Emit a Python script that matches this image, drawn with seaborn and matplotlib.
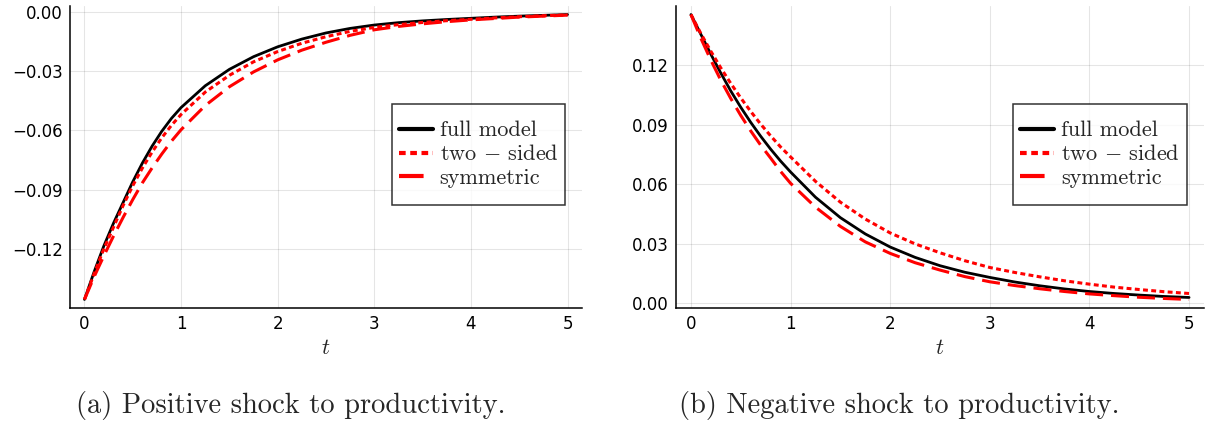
import numpy as np
import pandas as pd
import matplotlib
matplotlib.use("Agg")
import matplotlib.pyplot as plt
from matplotlib.path import Path
from matplotlib.ticker import FixedLocator, FuncFormatter
import seaborn as sns

# Time grid of the impulse responses
t = [0, 0.1, 0.2, 0.3, 0.4, 0.5, 0.6, 0.7, 0.8, 0.9, 1.0,
     1.25, 1.5, 1.75, 2.0, 2.25, 2.5, 2.75, 3.0, 3.25, 3.5, 3.75, 4.0, 4.25, 4.5, 4.75, 5.0]

# (a) Positive shock to productivity
pos_full = [-0.1455, -0.1315, -0.1185, -0.1070, -0.0965, -0.0860, -0.0765, -0.0680, -0.0605,
            -0.0540, -0.0485, -0.0375, -0.0292, -0.0228, -0.0178, -0.0139, -0.0108, -0.0085,
            -0.0068, -0.0056, -0.0047, -0.0040, -0.0034, -0.0028, -0.0023, -0.0019, -0.0015]
pos_two = [-0.1455, -0.1325, -0.1200, -0.1090, -0.0980, -0.0880, -0.0790, -0.0710, -0.0638,
           -0.0575, -0.0520, -0.0407, -0.0322, -0.0254, -0.0202, -0.0160, -0.0127, -0.0100,
           -0.0080, -0.0066, -0.0055, -0.0046, -0.0039, -0.0032, -0.0026, -0.0021, -0.0017]
pos_sym = [-0.1455, -0.1340, -0.1235, -0.1135, -0.1040, -0.0950, -0.0865, -0.0790, -0.0720,
           -0.0655, -0.0597, -0.0475, -0.0380, -0.0305, -0.0244, -0.0195, -0.0155, -0.0120,
           -0.0092, -0.0075, -0.0062, -0.0051, -0.0042, -0.0035, -0.0028, -0.0023, -0.0018]

# (b) Negative shock to productivity
neg_full = [0.1455, 0.1355, 0.1255, 0.1160, 0.1070, 0.0988, 0.0912, 0.0842, 0.0777,
            0.0717, 0.0662, 0.0535, 0.0432, 0.0350, 0.0284, 0.0232, 0.0190, 0.0157,
            0.0131, 0.0108, 0.0089, 0.0073, 0.0060, 0.0050, 0.0042, 0.0035, 0.0030]
neg_two = [0.1455, 0.1359, 0.1270, 0.1186, 0.1108, 0.1035, 0.0967, 0.0903, 0.0844,
           0.0788, 0.0738, 0.0615, 0.0510, 0.0425, 0.0355, 0.0300, 0.0255, 0.0215,
           0.0181, 0.0156, 0.0134, 0.0114, 0.0097, 0.0082, 0.0070, 0.0059, 0.0050]
neg_sym = [0.1455, 0.1335, 0.1225, 0.1124, 0.1032, 0.0947, 0.0869, 0.0797, 0.0732,
           0.0665, 0.0605, 0.0485, 0.0388, 0.0310, 0.0252, 0.0205, 0.0168, 0.0135,
           0.0109, 0.0090, 0.0074, 0.0060, 0.0048, 0.0039, 0.0031, 0.0025, 0.0020]

series_labels = ["full model", "two $-$ sided", "symmetric"]
x_ticks = [0, 1, 2, 3, 4, 5]
pos_yticks = [-0.12, -0.09, -0.06, -0.03, 0.00]
neg_yticks = [0.00, 0.03, 0.06, 0.09, 0.12]
captions = ["(a) Positive shock to productivity.", "(b) Negative shock to productivity."]

sns.set_style("white")
plt.rcParams["font.family"] = ["DejaVu Sans"]
plt.rcParams["mathtext.fontset"] = "cm"

fig = plt.figure(figsize=(12.06, 4.21), dpi=100)
ax_a = fig.add_axes([70 / 1206, 1 - 308 / 421, 512 / 1206, 302 / 421])
ax_b = fig.add_axes([676 / 1206, 1 - 308 / 421, 528 / 1206, 302 / 421])

styles = [
    dict(color="black", linewidth=2.0, linestyle="-"),
    dict(color="#ff0000", linewidth=2.2, linestyle=(0, (1.6, 1.1))),
    dict(color="#ff0000", linewidth=2.2, linestyle=(0, (5.9, 2.6))),
]


class TallSquareBox:
    """Square legend frame with extra padding above and below only."""

    def __init__(self, pad_y):
        self.pad_y = pad_y

    def __call__(self, x0, y0, width, height, mutation_size):
        py = self.pad_y * mutation_size
        x1, y1 = x0 + width, y0 + height
        verts = [(x0, y0 - py), (x1, y0 - py), (x1, y1 + py), (x0, y1 + py), (x0, y0 - py)]
        return Path(verts, closed=True)


def fmt(v, _pos):
    return f"{v:.2f}".replace("-", "\u2212")


def draw_panel(ax, ys, yticks):
    for y, lab, st in zip(ys, series_labels, styles):
        df = pd.DataFrame({"t": t, "v": y})
        sns.lineplot(data=df, x="t", y="v", ax=ax, estimator=None, label=lab, **st)
    lo = min(min(y) for y in ys)
    hi = max(max(y) for y in ys)
    pad = 0.03 * (hi - lo)
    ax.set_ylim(lo - pad, hi + pad)
    ax.set_xlim(-0.15, 5.15)
    ax.xaxis.set_major_locator(FixedLocator(x_ticks))
    ax.yaxis.set_major_locator(FixedLocator(yticks))
    ax.yaxis.set_major_formatter(FuncFormatter(fmt))
    ax.grid(True, color="black", alpha=0.1, linewidth=0.8)
    for side in ("top", "right"):
        ax.spines[side].set_visible(False)
    for side in ("left", "bottom"):
        ax.spines[side].set_color("black")
        ax.spines[side].set_linewidth(1.1)
    ax.tick_params(direction="in", length=5, width=1.1, color="black",
                   labelsize=12, labelcolor="black", pad=5)
    ax.set_xlabel("$t$", fontsize=16, labelpad=4)
    ax.set_ylabel("")
    leg = ax.legend(loc="upper right", bbox_to_anchor=(0.967, 0.642), borderaxespad=0,
                    prop={"family": "cmr10", "size": 16}, frameon=True, fancybox=False,
                    edgecolor="black", handlelength=1.55, handletextpad=0.3,
                    labelspacing=0.18, borderpad=0.3)
    frame = leg.get_frame()
    frame.set_linewidth(1.1)
    frame.set_boxstyle(TallSquareBox(0.45))
    for h in leg.get_lines():
        h.set_linewidth(3.0)


draw_panel(ax_a, [pos_full, pos_two, pos_sym], pos_yticks)
draw_panel(ax_b, [neg_full, neg_two, neg_sym], neg_yticks)

fig.text(0.241, 0.038, captions[0], family="cmr10", fontsize=20.5, ha="center", va="center")
fig.text(0.746, 0.038, captions[1], family="cmr10", fontsize=20.5, ha="center", va="center")

fig.savefig("out.png", dpi=100)
